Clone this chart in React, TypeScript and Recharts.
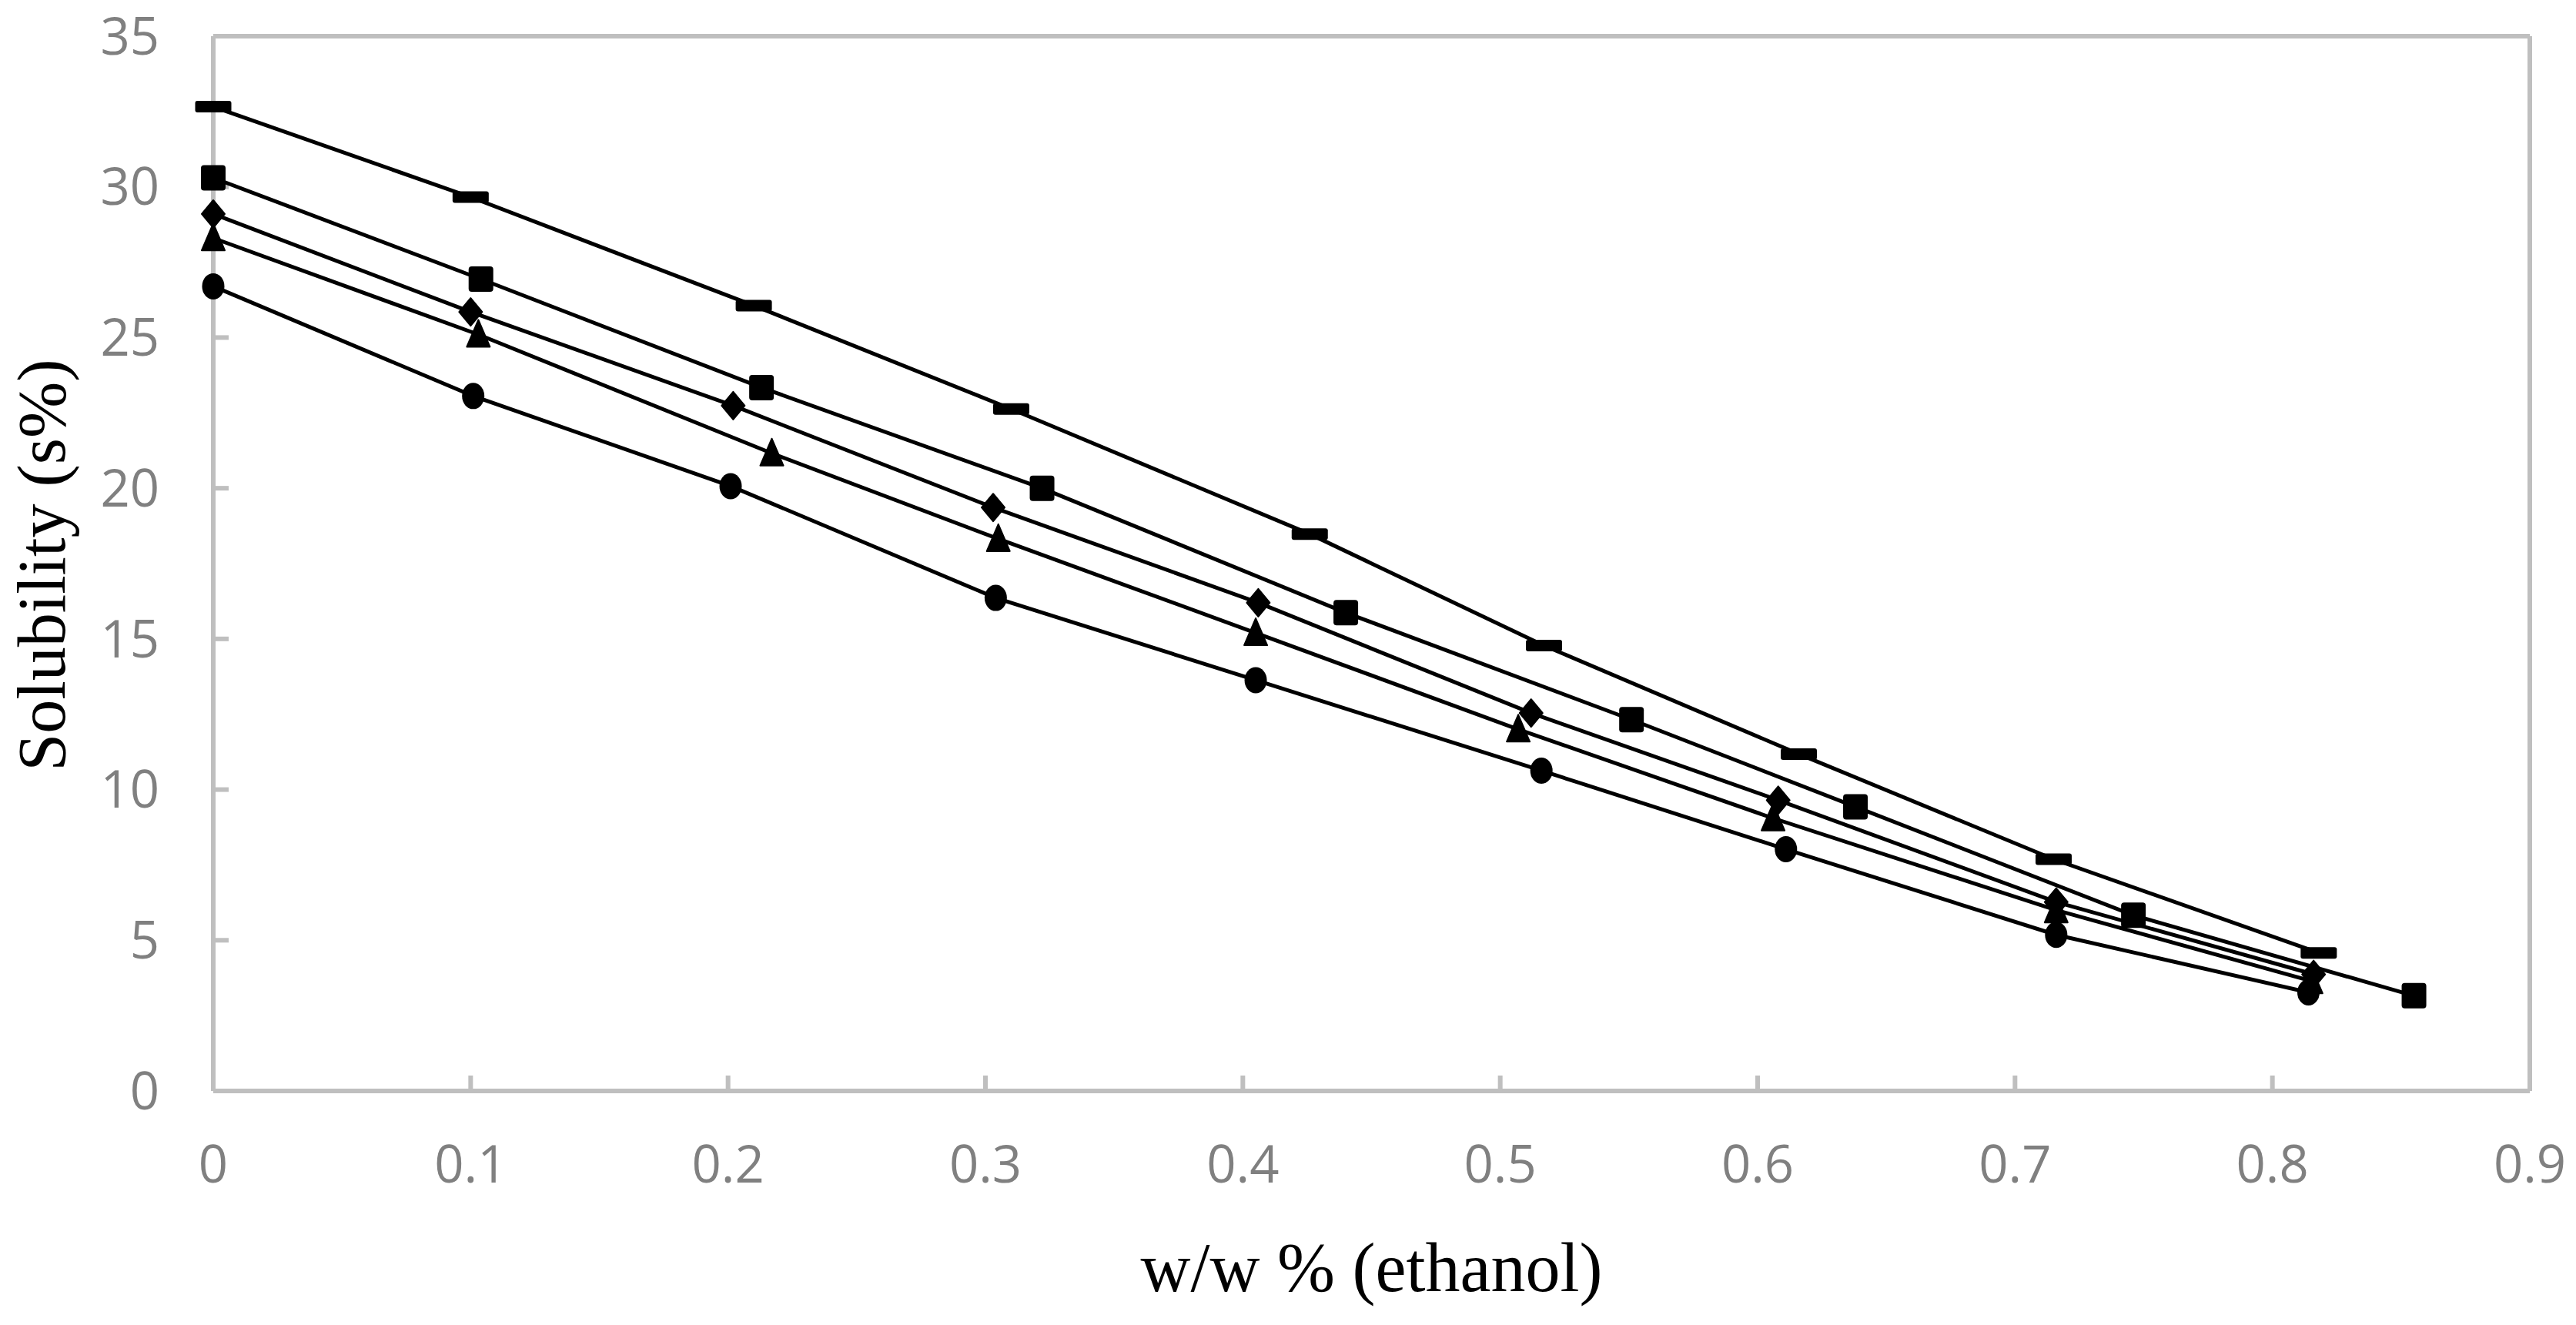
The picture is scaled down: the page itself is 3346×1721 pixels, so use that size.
import React from 'react';
import {
  ScatterChart,
  Scatter,
  XAxis,
  YAxis,
  ReferenceLine,
} from 'recharts';

// values
const circleX = [0, 0.101, 0.201, 0.304, 0.405, 0.516, 0.611, 0.716, 0.814];
const circleY = [26.7, 23.06, 20.07, 16.36, 13.63, 10.63, 8.02, 5.18, 3.27];

const triangleX = [0, 0.103, 0.217, 0.305, 0.405, 0.507, 0.606, 0.716, 0.815];
const triangleY = [28.3, 25.1, 21.16, 18.32, 15.2, 12.0, 9.05, 6.0, 3.65];

const diamondX = [0, 0.1, 0.202, 0.303, 0.406, 0.512, 0.608, 0.716, 0.816];
const diamondY = [29.1, 25.85, 22.74, 19.36, 16.2, 12.54, 9.65, 6.27, 3.87];

const squareX = [0, 0.104, 0.213, 0.322, 0.44, 0.551, 0.638, 0.746, 0.855];
const squareY = [30.3, 26.94, 23.34, 20.0, 15.87, 12.32, 9.43, 5.83, 3.16];

const dashX = [0, 0.1, 0.21, 0.31, 0.426, 0.517, 0.616, 0.715, 0.818];
const dashY = [32.66, 29.66, 26.06, 22.63, 18.48, 14.78, 11.18, 7.69, 4.58];

const xTicks = [0, 0.1, 0.2, 0.3, 0.4, 0.5, 0.6, 0.7, 0.8, 0.9];
const yTicks = [0, 5, 10, 15, 20, 25, 30, 35];

const toPoints = (xs: number[], ys: number[]) =>
  xs.map((x, i) => ({ x, y: ys[i] }));

const GRAY = '#bfbfbf';
const TICK_FONT = {
  fill: '#808080',
  fontSize: 67,
  fontFamily: '"Open Sans", "Noto Sans", sans-serif',
};
const LABEL_FONT = '"Liberation Serif", "DejaVu Serif", serif';

const CircleShape = (p: any) => (
  <ellipse cx={p.cx} cy={p.cy} rx={14.5} ry={17} fill="#000" />
);
const TriangleShape = (p: any) => (
  <polygon
    points={`${p.cx},${p.cy - 19} ${p.cx + 15},${p.cy + 16} ${p.cx - 15},${p.cy + 16}`}
    fill="#000"
    stroke="#000"
    strokeWidth={2}
    strokeLinejoin="round"
  />
);
const DiamondShape = (p: any) => (
  <polygon
    points={`${p.cx},${p.cy - 18} ${p.cx + 15},${p.cy} ${p.cx},${p.cy + 18} ${p.cx - 15},${p.cy}`}
    fill="#000"
    stroke="#000"
    strokeWidth={2}
    strokeLinejoin="round"
  />
);
const SquareShape = (p: any) => (
  <rect x={p.cx - 16} y={p.cy - 16.5} width={32} height={33} rx={4} fill="#000" />
);
const DashShape = (p: any) => (
  <rect x={p.cx - 23.5} y={p.cy - 7.5} width={47} height={15} rx={3} fill="#000" />
);

const lineStyle = { stroke: '#000', strokeWidth: 5 };

const YLabel = () => (
  <text
    x={84}
    y={734}
    transform="rotate(-90 84 734)"
    textAnchor="middle"
    fontFamily={LABEL_FONT}
    fontSize={88}
    fill="#000"
  >
    Solubility (s%)
  </text>
);

const App: React.FC = () => {
  return (
    <div style={{ position: 'fixed', left: 0, top: 0, width: 3346, height: 1721, background: '#fff' }}>
      <ScatterChart
        width={3346}
        height={1721}
        margin={{ top: 47, right: 60, bottom: 0, left: 0 }}
      >
        <XAxis
          type="number"
          dataKey="x"
          domain={[0, 0.9]}
          ticks={xTicks}
          height={304}
          stroke={GRAY}
          strokeWidth={6}
          tickSize={-20}
          tickMargin={91}
          tick={TICK_FONT}
          label={{
            value: 'w/w % (ethanol)',
            position: 'insideBottom',
            offset: 44,
            fill: '#000',
            fontSize: 90,
            fontFamily: LABEL_FONT,
          }}
        />
        <YAxis
          type="number"
          dataKey="y"
          domain={[0, 35]}
          ticks={yTicks}
          width={277}
          stroke={GRAY}
          strokeWidth={6}
          tickSize={-20}
          tickMargin={90}
          tick={TICK_FONT}
          label={<YLabel />}
        />
        <ReferenceLine y={35} stroke={GRAY} strokeWidth={6} />
        <ReferenceLine x={0.9} stroke={GRAY} strokeWidth={6} />
        <Scatter data={toPoints(circleX, circleY)} line={lineStyle} shape={CircleShape} isAnimationActive={false} />
        <Scatter data={toPoints(triangleX, triangleY)} line={lineStyle} shape={TriangleShape} isAnimationActive={false} />
        <Scatter data={toPoints(diamondX, diamondY)} line={lineStyle} shape={DiamondShape} isAnimationActive={false} />
        <Scatter data={toPoints(squareX, squareY)} line={lineStyle} shape={SquareShape} isAnimationActive={false} />
        <Scatter data={toPoints(dashX, dashY)} line={lineStyle} shape={DashShape} isAnimationActive={false} />
      </ScatterChart>
    </div>
  );
};

export default App;
